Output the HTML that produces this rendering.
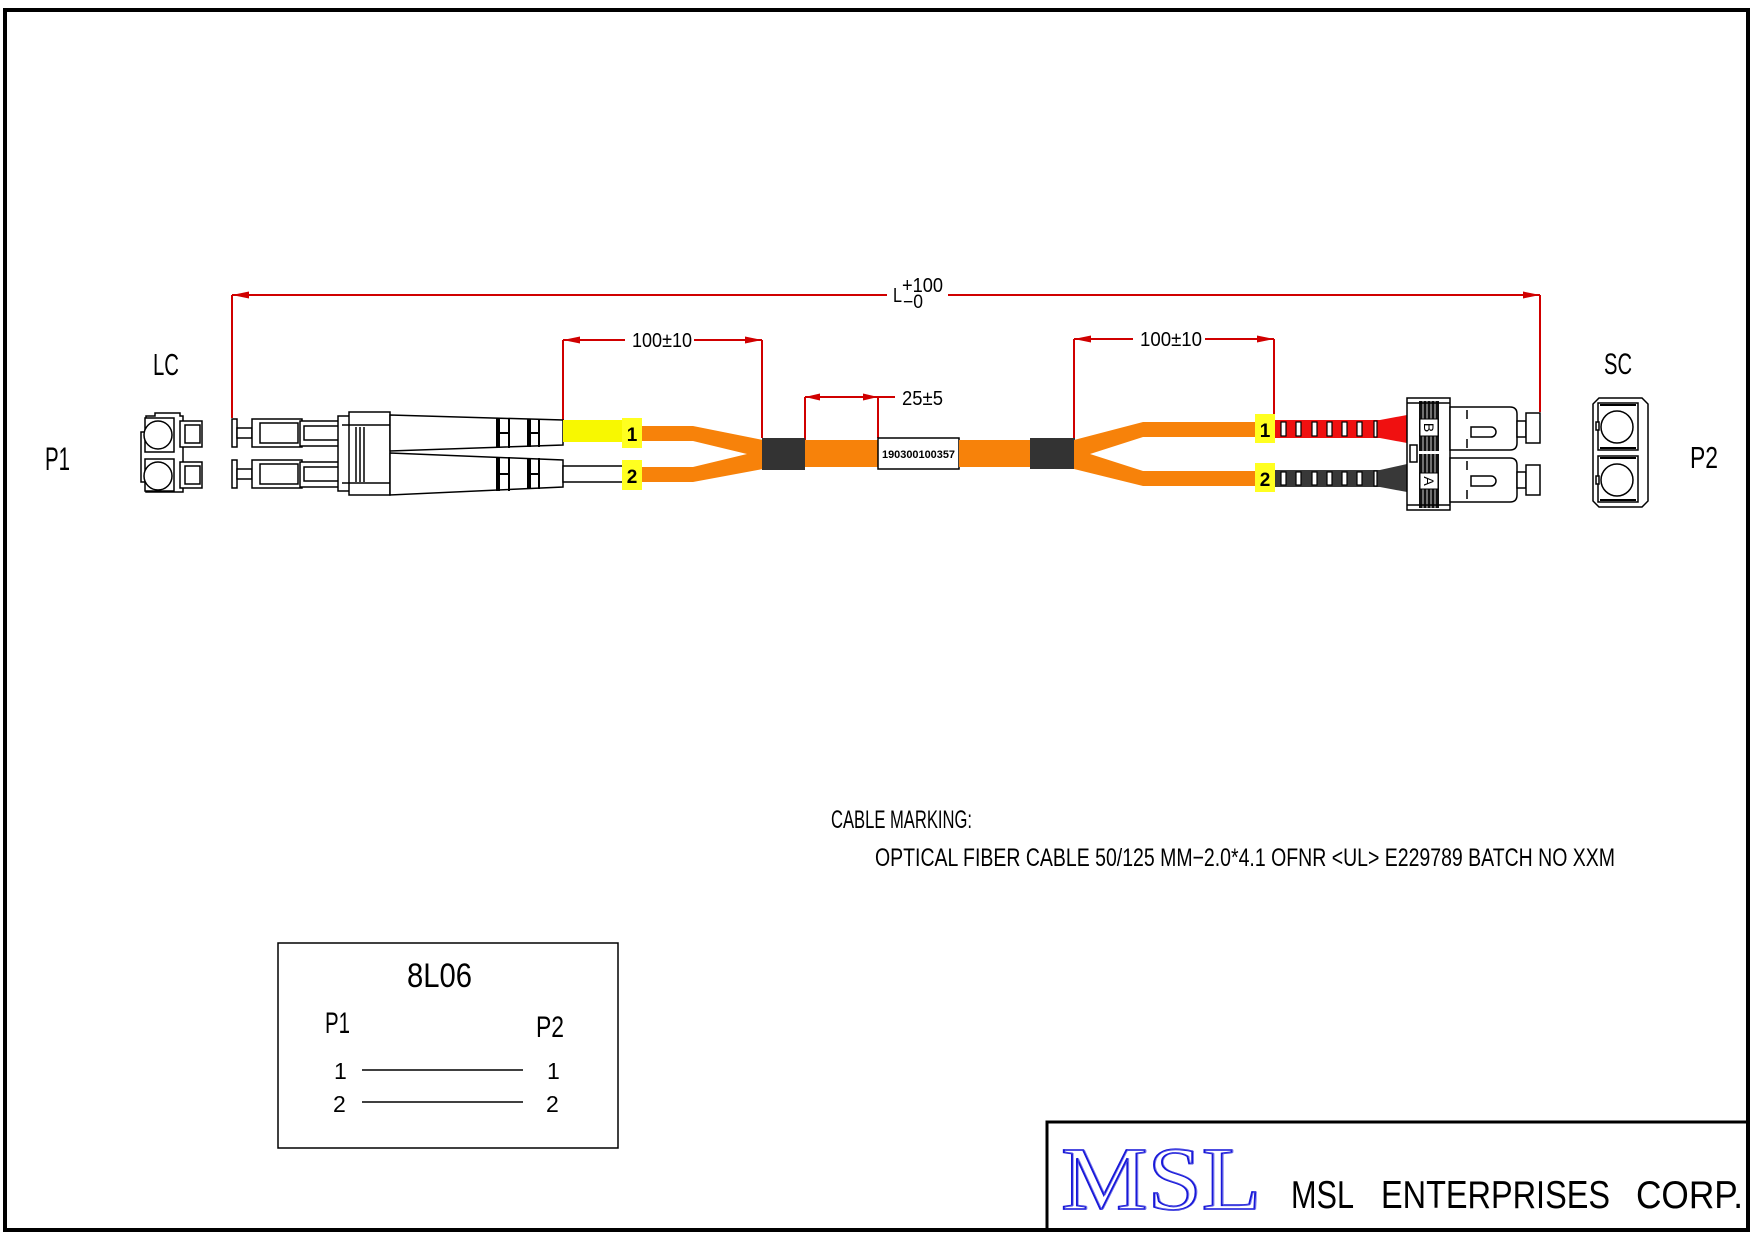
<!DOCTYPE html>
<html>
<head>
<meta charset="utf-8">
<style>
  html,body{margin:0;padding:0;background:#fff;}
  svg{display:block;}
  .t{font-family:"Liberation Sans",sans-serif;fill:#000;}
  .o{fill:#fff;stroke:#000;stroke-width:1.5;}
  .dim{stroke:#d00000;stroke-width:2;fill:none;}
  .ah{fill:#d00000;}
</style>
</head>
<body>
<svg width="1754" height="1240" viewBox="0 0 1754 1240" xmlns="http://www.w3.org/2000/svg">
  <rect x="0" y="0" width="1754" height="1240" fill="#fff"/>
  <!-- outer border -->
  <rect x="5" y="10" width="1743" height="1220" fill="none" stroke="#000" stroke-width="4"/>
  <!-- title block -->
  <polyline points="1047,1232 1047,1122 1748,1122" fill="none" stroke="#000" stroke-width="3"/>

  <!-- ===== Dimension lines ===== -->
  <line class="dim" x1="232" y1="295" x2="887" y2="295"/>
  <line class="dim" x1="948" y1="295" x2="1540" y2="295"/>
  <line class="dim" x1="232" y1="295" x2="232" y2="418"/>
  <line class="dim" x1="1540" y1="295" x2="1540" y2="412"/>
  <polygon class="ah" points="232,295 249,291.5 249,298.5"/>
  <polygon class="ah" points="1540,295 1523,291.5 1523,298.5"/>
  <text class="t" x="893" y="302" font-size="20" textLength="9" lengthAdjust="spacingAndGlyphs">L</text>
  <text class="t" x="902" y="292" font-size="20" textLength="41" lengthAdjust="spacingAndGlyphs">+100</text>
  <text class="t" x="903" y="308" font-size="19" textLength="20" lengthAdjust="spacingAndGlyphs">−0</text>

  <line class="dim" x1="563" y1="340" x2="625" y2="340"/>
  <line class="dim" x1="694" y1="340" x2="762" y2="340"/>
  <line class="dim" x1="563" y1="340" x2="563" y2="420"/>
  <line class="dim" x1="762" y1="340" x2="762" y2="438"/>
  <polygon class="ah" points="563,340 580,336.5 580,343.5"/>
  <polygon class="ah" points="762,340 745,336.5 745,343.5"/>
  <text class="t" x="632" y="347" font-size="20" textLength="60" lengthAdjust="spacingAndGlyphs">100±10</text>

  <line class="dim" x1="805" y1="397" x2="895" y2="397"/>
  <line class="dim" x1="805" y1="397" x2="805" y2="440"/>
  <line class="dim" x1="878" y1="397" x2="878" y2="438"/>
  <polygon class="ah" points="805,397 820,393.5 820,400.5"/>
  <polygon class="ah" points="878,397 863,393.5 863,400.5"/>
  <text class="t" x="902" y="405" font-size="20" textLength="41" lengthAdjust="spacingAndGlyphs">25±5</text>

  <line class="dim" x1="1074" y1="339" x2="1133" y2="339"/>
  <line class="dim" x1="1205" y1="339" x2="1274" y2="339"/>
  <line class="dim" x1="1074" y1="339" x2="1074" y2="438"/>
  <line class="dim" x1="1274" y1="339" x2="1274" y2="414"/>
  <polygon class="ah" points="1074,339 1091,335.5 1091,342.5"/>
  <polygon class="ah" points="1274,339 1257,335.5 1257,342.5"/>
  <text class="t" x="1140" y="346" font-size="20" textLength="62" lengthAdjust="spacingAndGlyphs">100±10</text>

  <!-- ===== Labels ===== -->
  <text class="t" x="153" y="375" font-size="31" textLength="26" lengthAdjust="spacingAndGlyphs">LC</text>
  <text class="t" x="45" y="470" font-size="32" textLength="25" lengthAdjust="spacingAndGlyphs">P1</text>
  <text class="t" x="1604" y="374" font-size="30" textLength="28" lengthAdjust="spacingAndGlyphs">SC</text>
  <text class="t" x="1690" y="468" font-size="31" textLength="28" lengthAdjust="spacingAndGlyphs">P2</text>

  <!-- ===== LC adapter ===== -->
  <g>
    <path class="o" d="M155,413 H180 V416 H183 V492 H146 V482 H141 V432 H146 V416 H155 Z"/>
    <rect class="o" x="145" y="418" width="29" height="34"/>
    <circle class="o" cx="158" cy="435" r="14"/>
    <rect class="o" x="145" y="459" width="29" height="32"/>
    <circle class="o" cx="158" cy="476" r="14"/>
    <rect class="o" x="180" y="421" width="22" height="26"/>
    <rect class="o" x="185" y="425" width="15" height="18"/>
    <rect class="o" x="180" y="462" width="22" height="26"/>
    <rect class="o" x="185" y="466" width="15" height="18"/>
  </g>

  <!-- ===== LC plug ===== -->
  <g>
    <rect class="o" x="232" y="419" width="5" height="28"/>
    <rect class="o" x="237" y="428" width="15" height="10"/>
    <rect class="o" x="252" y="419" width="50" height="28"/>
    <rect class="o" x="260" y="423" width="38" height="20"/>
    <rect class="o" x="300" y="421" width="40" height="25"/>
    <rect class="o" x="304" y="426" width="36" height="14"/>
    <rect class="o" x="232" y="460" width="5" height="28"/>
    <rect class="o" x="237" y="469" width="15" height="10"/>
    <rect class="o" x="252" y="460" width="50" height="28"/>
    <rect class="o" x="260" y="464" width="38" height="20"/>
    <rect class="o" x="300" y="462" width="40" height="25"/>
    <rect class="o" x="304" y="467" width="36" height="14"/>
    <rect class="o" x="338" y="416" width="12" height="75"/>
    <rect class="o" x="349" y="412" width="41" height="83"/>
    <line x1="342" y1="425" x2="390" y2="425" stroke="#000" stroke-width="1.5"/>
    <line x1="342" y1="483" x2="390" y2="483" stroke="#000" stroke-width="1.5"/>
    <line x1="356" y1="427" x2="356" y2="482" stroke="#000" stroke-width="1.5"/>
    <line x1="360" y1="427" x2="360" y2="482" stroke="#000" stroke-width="1.5"/>
    <line x1="364" y1="427" x2="364" y2="482" stroke="#000" stroke-width="1.5"/>
    <polygon class="o" points="390,415 563,420 563,445 390,451"/>
    <polygon class="o" points="390,453 563,460 563,487 390,495"/>
    <rect x="496" y="418" width="4" height="30" fill="#000"/>
    <rect x="508" y="418" width="2" height="30" fill="#000"/>
    <rect x="527" y="419" width="4" height="28" fill="#000"/>
    <rect x="538" y="419" width="2" height="28" fill="#000"/>
    <rect x="498" y="432" width="11" height="2" fill="#000"/>
    <rect x="529" y="432" width="10" height="2" fill="#000"/>
    <rect x="496" y="457" width="4" height="34" fill="#000"/>
    <rect x="508" y="457" width="2" height="34" fill="#000"/>
    <rect x="527" y="458" width="4" height="31" fill="#000"/>
    <rect x="538" y="458" width="2" height="31" fill="#000"/>
    <rect x="498" y="473" width="11" height="2" fill="#000"/>
    <rect x="529" y="473" width="10" height="2" fill="#000"/>
  </g>

  <!-- ===== Cable ===== -->
  <rect x="563" y="420" width="60" height="22" fill="#f8f800"/>
  <rect x="563" y="466" width="60" height="16" fill="#fff" stroke="#000" stroke-width="1.5"/>
  <polygon fill="#f7820a" points="641,426 693,426 763,440 763,469 693,482 641,482 641,467 693,467 747,454 693,441 641,441"/>
  <rect x="622" y="418" width="20" height="30" fill="#ffff20"/>
  <text class="t" x="632" y="441" font-size="19" font-weight="bold" text-anchor="middle">1</text>
  <rect x="622" y="460" width="20" height="30" fill="#ffff20"/>
  <text class="t" x="632" y="483" font-size="19" font-weight="bold" text-anchor="middle">2</text>
  <rect x="762" y="438" width="43" height="32" fill="#333"/>
  <rect x="805" y="440" width="73" height="27" fill="#f7820a"/>
  <rect x="878" y="438" width="81" height="31" fill="#fff" stroke="#000" stroke-width="1.5"/>
  <text class="t" x="882" y="458" font-size="11" font-weight="bold" textLength="73" lengthAdjust="spacingAndGlyphs">190300100357</text>
  <rect x="959" y="440" width="72" height="27" fill="#f7820a"/>
  <rect x="1030" y="438" width="45" height="31" fill="#333"/>
  <polygon fill="#f7820a" points="1074,440 1143,422 1256,422 1256,437 1143,437 1090,454 1143,471 1256,471 1256,486 1143,486 1074,469"/>
  <rect x="1255" y="414" width="20" height="29" fill="#ffff20"/>
  <text class="t" x="1265" y="437" font-size="19" font-weight="bold" text-anchor="middle">1</text>
  <rect x="1255" y="463" width="20" height="29" fill="#ffff20"/>
  <text class="t" x="1265" y="486" font-size="19" font-weight="bold" text-anchor="middle">2</text>

  <!-- ===== SC boots ===== -->
  <polygon fill="#f01010" points="1275,420 1380,420 1407,415 1407,443 1380,438 1275,438"/>
  <polygon fill="#383838" points="1275,470 1380,470 1407,464 1407,492 1380,487 1275,487"/>
  <g fill="#fff" stroke="#000" stroke-width="1.2">
    <rect x="1281" y="422" width="5" height="14"/>
    <rect x="1296" y="422" width="5" height="14"/>
    <rect x="1312" y="422" width="5" height="14"/>
    <rect x="1327" y="422" width="5" height="14"/>
    <rect x="1342" y="422" width="5" height="14"/>
    <rect x="1357" y="422" width="5" height="14"/>
    <rect x="1374" y="421" width="3" height="16"/>
    <rect x="1281" y="472" width="5" height="13"/>
    <rect x="1296" y="472" width="5" height="13"/>
    <rect x="1312" y="472" width="5" height="13"/>
    <rect x="1327" y="472" width="5" height="13"/>
    <rect x="1342" y="472" width="5" height="13"/>
    <rect x="1357" y="472" width="5" height="13"/>
    <rect x="1374" y="471" width="3" height="15"/>
  </g>

  <!-- ===== SC housing ===== -->
  <g>
    <rect class="o" x="1407" y="398" width="43" height="112"/>
    <rect x="1419" y="401" width="20" height="107" fill="#111"/>
    <g stroke="#fff" stroke-width="0.8">
      <line x1="1423" y1="401" x2="1423" y2="508"/>
      <line x1="1427" y1="401" x2="1427" y2="508"/>
      <line x1="1431" y1="401" x2="1431" y2="508"/>
      <line x1="1435" y1="401" x2="1435" y2="508"/>
    </g>
    <line x1="1407" y1="403" x2="1450" y2="403" stroke="#000" stroke-width="1.5"/>
    <line x1="1407" y1="505" x2="1450" y2="505" stroke="#000" stroke-width="1.5"/>
    <rect x="1420" y="419" width="18" height="17" fill="#fff" stroke="#000" stroke-width="1"/>
    <text class="t" x="0" y="0" font-size="14" transform="translate(1424,427.5) rotate(90)" text-anchor="middle">B</text>
    <rect x="1419" y="451" width="20" height="3" fill="#fff"/>
    <rect x="1420" y="473" width="18" height="16" fill="#fff" stroke="#000" stroke-width="1"/>
    <text class="t" x="0" y="0" font-size="14" transform="translate(1424,481) rotate(90)" text-anchor="middle">A</text>
    <rect class="o" x="1410" y="445" width="7" height="17"/>
  </g>

  <!-- ===== SC plugs ===== -->
  <g>
    <path class="o" d="M1450,407 H1510 Q1517,407 1517,414 V443 Q1517,450 1510,450 H1450 Z"/>
    <path class="o" d="M1471,427 H1491 A5,5 0 0 1 1491,437 H1471 Z"/>
    <line x1="1467" y1="410" x2="1467" y2="419" stroke="#000" stroke-width="1.5"/>
    <line x1="1467" y1="439" x2="1467" y2="448" stroke="#000" stroke-width="1.5"/>
    <rect class="o" x="1517" y="421" width="9" height="16"/>
    <rect class="o" x="1526" y="413" width="14" height="30"/>
    <path class="o" d="M1450,458 H1510 Q1517,458 1517,465 V495 Q1517,502 1510,502 H1450 Z"/>
    <path class="o" d="M1471,476 H1491 A5,5 0 0 1 1491,486 H1471 Z"/>
    <line x1="1467" y1="461" x2="1467" y2="470" stroke="#000" stroke-width="1.5"/>
    <line x1="1467" y1="490" x2="1467" y2="499" stroke="#000" stroke-width="1.5"/>
    <rect class="o" x="1517" y="472" width="9" height="16"/>
    <rect class="o" x="1526" y="465" width="14" height="30"/>
  </g>

  <!-- ===== SC adapter ===== -->
  <g>
    <path class="o" d="M1599,398 H1642 L1648,404 V501 L1642,507 H1599 L1593,501 V404 Z"/>
    <rect class="o" x="1598" y="403" width="40" height="47"/>
    <line x1="1600" y1="405" x2="1636" y2="405" stroke="#000" stroke-width="2"/>
    <line x1="1600" y1="448" x2="1636" y2="448" stroke="#000" stroke-width="2"/>
    <circle class="o" cx="1617" cy="427" r="16"/>
    <rect class="o" x="1598" y="456" width="40" height="46"/>
    <line x1="1600" y1="458" x2="1636" y2="458" stroke="#000" stroke-width="2"/>
    <line x1="1600" y1="500" x2="1636" y2="500" stroke="#000" stroke-width="2"/>
    <circle class="o" cx="1617" cy="480" r="16"/>
    <rect class="o" x="1596" y="422" width="3" height="8"/>
    <rect class="o" x="1596" y="476" width="3" height="8"/>
  </g>

  <!-- ===== Cable marking ===== -->
  <text class="t" x="831" y="828" font-size="25" textLength="141" lengthAdjust="spacingAndGlyphs">CABLE MARKING:</text>
  <text class="t" x="875" y="866" font-size="25" textLength="740" lengthAdjust="spacingAndGlyphs">OPTICAL FIBER CABLE 50/125 MM−2.0*4.1 OFNR &lt;UL&gt; E229789 BATCH NO XXM</text>

  <!-- ===== Pinout table ===== -->
  <rect x="278" y="943" width="340" height="205" fill="none" stroke="#000" stroke-width="1.5"/>
  <text class="t" x="407" y="987" font-size="34" textLength="65" lengthAdjust="spacingAndGlyphs">8L06</text>
  <text class="t" x="325" y="1033" font-size="30" textLength="25" lengthAdjust="spacingAndGlyphs">P1</text>
  <text class="t" x="536" y="1037" font-size="30" textLength="28" lengthAdjust="spacingAndGlyphs">P2</text>
  <text class="t" x="334" y="1079" font-size="23">1</text>
  <text class="t" x="333" y="1112" font-size="23">2</text>
  <text class="t" x="547" y="1079" font-size="23">1</text>
  <text class="t" x="546" y="1112" font-size="23">2</text>
  <line x1="362" y1="1070" x2="523" y2="1070" stroke="#000" stroke-width="1.5"/>
  <line x1="362" y1="1102" x2="523" y2="1102" stroke="#000" stroke-width="1.5"/>

  <!-- ===== Title block ===== -->
  <text x="1061" y="1209" font-family="'Liberation Serif',serif" font-size="90" fill="#fff" stroke="#1818d8" stroke-width="1.8" textLength="200" lengthAdjust="spacingAndGlyphs">MSL</text>
  <text x="1061" y="1209" font-family="'Liberation Serif',serif" font-size="90" fill="none" stroke="#6a6ae8" stroke-width="0.5" textLength="200" lengthAdjust="spacingAndGlyphs" transform="translate(1.5,0)">MSL</text>
  <text class="t" x="1291" y="1208" font-size="39" textLength="63" lengthAdjust="spacingAndGlyphs" fill="#111">MSL</text>
  <text class="t" x="1381" y="1208" font-size="39" textLength="229" lengthAdjust="spacingAndGlyphs" fill="#111">ENTERPRISES</text>
  <text class="t" x="1636" y="1208" font-size="39" textLength="107" lengthAdjust="spacingAndGlyphs" fill="#111">CORP.</text>
</svg>
</body>
</html>
